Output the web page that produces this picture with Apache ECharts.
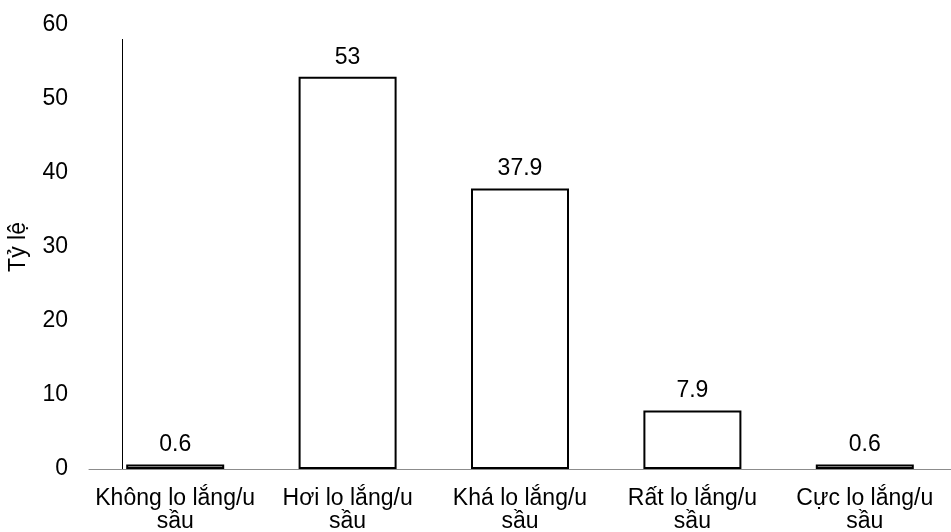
<!DOCTYPE html>
<html>
<head>
<meta charset="utf-8">
<script src="https://cdn.jsdelivr.net/npm/echarts@6/dist/echarts.min.js"></script>
<style>
html, body { margin: 0; padding: 0; background: #fff; }
#chart { width: 951px; height: 532px; }
</style>
</head>
<body>
<div id="chart"></div>
<script>
// Mức độ lo lắng/u sầu (tỷ lệ %)
const categories = ['Không lo lắng/u\nsầu', 'Hơi lo lắng/u\nsầu', 'Khá lo lắng/u\nsầu', 'Rất lo lắng/u\nsầu', 'Cực lo lắng/u\nsầu'];
const values = [0.6, 53, 37.9, 7.9, 0.6];
const yTicks = { min: 0, max: 60, interval: 10 };

const font = 'Liberation Sans, Arial, sans-serif';
const chart = echarts.init(document.getElementById('chart'));
chart.setOption({
  animation: false,
  backgroundColor: '#ffffff',
  grid: { left: 89, right: 0, top: 25, bottom: 63, containLabel: false, outerBoundsMode: 'none' },
  xAxis: {
    type: 'category',
    data: categories,
    axisLine: { show: true, lineStyle: { color: '#8c8c8c', width: 1 } },
    axisTick: { show: false },
    axisLabel: { color: '#000', fontSize: 23, fontFamily: font, lineHeight: 23, margin: 18, interval: 0 }
  },
  yAxis: {
    type: 'value',
    min: yTicks.min, max: yTicks.max, interval: yTicks.interval,
    name: 'Tỷ lệ',
    nameLocation: 'middle',
    nameGap: 59,
    nameRotate: 90,
    nameTextStyle: { color: '#000', fontSize: 23, fontFamily: font },
    axisLine: { show: false },
    axisTick: { show: false },
    splitLine: { show: false },
    axisLabel: { color: '#000', fontSize: 23, fontFamily: font, margin: 21 }
  },
  graphic: [{
    type: 'line',
    shape: { x1: 122.5, y1: 39, x2: 122.5, y2: 469 },
    style: { stroke: '#000', lineWidth: 1 },
    z: 10
  }],
  series: [{
    type: 'bar',
    data: values,
    barWidth: 98,
    itemStyle: { color: '#ffffff', borderColor: '#000', borderWidth: 2 },
    label: {
      show: true, position: 'top', distance: 8,
      color: '#000', fontSize: 23, fontFamily: font
    }
  }]
});
</script>
</body>
</html>
